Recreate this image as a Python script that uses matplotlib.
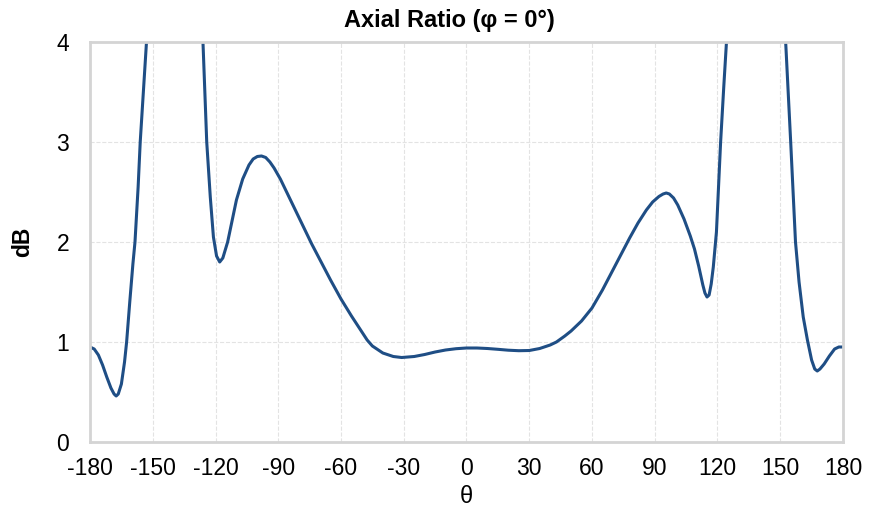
import matplotlib.pyplot as plt
import numpy as np

plt.rcParams['font.family'] = ['Liberation Sans', 'DejaVu Sans']
plt.rcParams['axes.unicode_minus'] = False

# theta (deg) and axial ratio (dB)
theta = [-180, -178, -176, -174, -172, -170, -168.5, -167.5, -166.5, -165, -163.5, -162.5,
         -161, -159.5, -158.5, -157, -156, -154.5, -153, -150, -145, -140, -135, -130,
         -126, -124.2, -122.5, -121, -119.5, -118, -116.5, -114.2, -112, -110, -107, -104,
         -102, -100, -98, -96, -94, -92, -89, -86, -83, -80, -77, -74, -70, -65, -60, -55,
         -50, -47.5, -45, -40, -35, -31, -25, -20, -15, -10, -5, 0,
         5, 10, 15, 20, 25, 30, 35, 40, 43, 47, 50, 55,
         60, 65, 70, 75, 78, 82, 86, 89, 92, 94, 95.5, 97, 99, 101, 104,
         107, 109, 111, 113, 114, 115, 116, 117, 118, 119.5, 121.5, 123,
         124.3, 127, 132, 138, 145, 150, 152.6, 155, 157.3, 159, 161, 163,
         165, 166.5, 167.7, 169, 171, 173.5, 176, 178, 180]
ar_db = [0.95, 0.93, 0.87, 0.77, 0.65, 0.54, 0.48, 0.46, 0.48, 0.58, 0.80, 1.00,
         1.40, 1.78, 2.00, 2.55, 3.00, 3.50, 4.00, 5.0, 6.5, 7.5, 6.5, 5.2,
         4.00, 3.00, 2.45, 2.05, 1.86, 1.80, 1.84, 2.00, 2.22, 2.42, 2.63, 2.77,
         2.83, 2.855, 2.86, 2.845, 2.80, 2.74, 2.63, 2.50, 2.37, 2.24, 2.11, 1.98, 1.82, 1.62, 1.43, 1.26,
         1.10, 1.02, 0.96, 0.89, 0.855, 0.845, 0.855, 0.875, 0.90, 0.92, 0.933, 0.94,
         0.94, 0.935, 0.927, 0.918, 0.913, 0.915, 0.935, 0.97, 1.00, 1.06, 1.11, 1.21,
         1.34, 1.52, 1.72, 1.92, 2.04, 2.19, 2.32, 2.40, 2.455, 2.48, 2.49, 2.48, 2.44, 2.37, 2.23,
         2.06, 1.93, 1.76, 1.57, 1.49, 1.45, 1.47, 1.58, 1.75, 2.10, 3.00, 3.55,
         4.00, 5.2, 7.0, 8.0, 6.5, 5.0, 4.00, 3.00, 2.00, 1.60, 1.25, 1.02,
         0.82, 0.73, 0.71, 0.73, 0.78, 0.86, 0.93, 0.95, 0.95]

fig = plt.figure(figsize=(8.74, 5.12), dpi=100)
ax = fig.add_axes([0.103, 0.1367, 0.8615, 0.7813])

ax.plot(theta, ar_db, color='#1f4e85', linewidth=2.2,
        solid_joinstyle='round', solid_capstyle='round')

ax.set_xlim(-180, 180)
ax.set_ylim(0, 4)
ax.set_xticks(np.arange(-180, 181, 30))
ax.set_yticks([0, 1, 2, 3, 4])
ax.grid(True, color='#e3e3e3', linestyle='--', linewidth=0.8)
ax.set_axisbelow(True)
for s in ax.spines.values():
    s.set_color('#d4d4d4')
    s.set_linewidth(2)
ax.tick_params(length=0, labelsize=16.5)
ax.tick_params(axis='x', pad=11)
ax.tick_params(axis='y', pad=15)

# title sits a bit left of the axes centre in the reference
fig.text(0.514, 0.96, 'Axial Ratio (φ = 0°)', fontsize=17, fontweight='bold',
         ha='center', va='center')
ax.set_xlabel('θ', fontsize=17, labelpad=4)
ax.set_ylabel('dB', fontsize=16.5, fontweight='bold', labelpad=16)

plt.savefig('out.png', dpi=100)
